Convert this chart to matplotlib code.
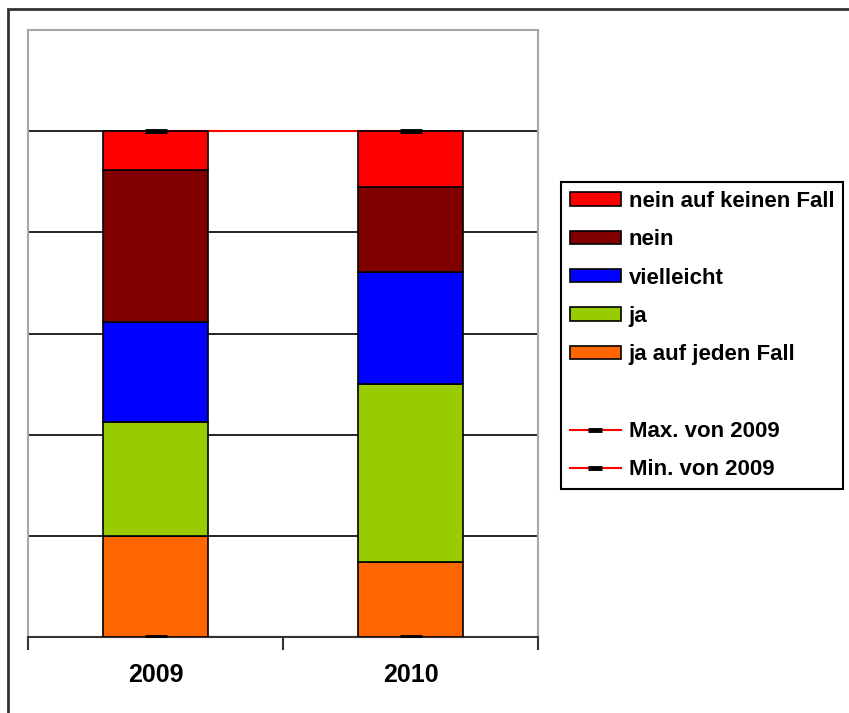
import matplotlib
matplotlib.use("Agg")
import matplotlib.pyplot as plt
from matplotlib.patches import Patch, Rectangle
from matplotlib.lines import Line2D
import numpy as np

# data (percent shares)
years = ["2009", "2010"]
series = ["ja auf jeden Fall", "ja", "vielleicht", "nein", "nein auf keinen Fall"]
ja_auf_jeden_fall = [20.0, 14.8]
ja = [22.5, 35.2]
vielleicht = [19.8, 22.1]
nein = [30.0, 16.8]
nein_auf_keinen_fall = [7.7, 11.1]
max_2009 = [100, 100]
min_2009 = [0, 0]

colors = ["#FF6600", "#99CC00", "#0000FF", "#800000", "#FF0000"]
values = [ja_auf_jeden_fall, ja, vielleicht, nein, nein_auf_keinen_fall]

plt.rcParams['font.family'] = ['Liberation Sans', 'DejaVu Sans']

fig = plt.figure(figsize=(8.49, 7.13), dpi=100)
ax = fig.add_axes([28/849, 76/713, 510/849, 607/713])

x = np.arange(len(years))

# red min/max lines go behind the bars
ax.plot(x, max_2009, color="red", lw=1.5, zorder=1)
ax.plot(x, min_2009, color="red", lw=1.5, zorder=1)

bottom = np.zeros(len(years))
for vals, col in zip(values, colors):
    ax.bar(x, vals, width=0.41, bottom=bottom, color=col, edgecolor="black",
           linewidth=1.2, zorder=3)
    bottom += np.array(vals)

# black dash markers on top
ax.plot(x, max_2009, ls="none", marker="_", color="black", ms=16, mew=3.5, zorder=5)
ax.plot(x, min_2009, ls="none", marker="_", color="black", ms=16, mew=3.5, zorder=5)

ax.set_xlim(-0.5, 1.5)
ax.set_ylim(0, 120)
ax.set_yticks(np.arange(0, 101, 20))
ax.set_yticklabels([])
ax.tick_params(axis="y", length=0)
ax.yaxis.grid(True, color="black", lw=1.2)
ax.set_axisbelow(True)

ax.set_xticks(x)
ax.set_xticklabels(years, fontsize=18, fontweight="bold")
ax.tick_params(axis="x", which="major", length=0, pad=18.5)
ax.set_xticks([-0.5, 0.5, 1.5], minor=True)
ax.tick_params(axis="x", which="minor", length=9, width=1.5, color="#333333")

for s in ["left", "top", "right"]:
    ax.spines[s].set_color("#a6a6a6")
    ax.spines[s].set_linewidth(1.5)
ax.spines["bottom"].set_color("#333333")
ax.spines["bottom"].set_linewidth(1.5)

# legend
handles = [Patch(facecolor=c, edgecolor="black", lw=1.2) for c in colors[::-1]]
labels = series[::-1]
handles.append(Patch(facecolor="none", edgecolor="none"))
labels.append("")
for lab in ["Max. von 2009", "Min. von 2009"]:
    handles.append(Line2D([], [], color="red", lw=1.5, marker="_", ms=10,
                          mew=3.5, mec="black"))
    labels.append(lab)

leg = fig.legend(handles, labels, loc="upper left",
                 bbox_to_anchor=(561/849, 531/713), borderaxespad=0,
                 prop={"size": 16, "weight": "bold"},
                 frameon=True, fancybox=False, framealpha=1,
                 edgecolor="black", borderpad=0.4, labelspacing=0.78,
                 handlelength=2.3, handleheight=0.55, handletextpad=0.35)
leg.get_frame().set_linewidth(1.5)

# outer chart frame (only left and top visible)
fig.add_artist(Rectangle((8/849, -0.2), 1.5, 704/713 + 0.2, transform=fig.transFigure,
                         fill=False, edgecolor="#333333", lw=2, clip_on=False))

fig.savefig("out.png", dpi=100)
